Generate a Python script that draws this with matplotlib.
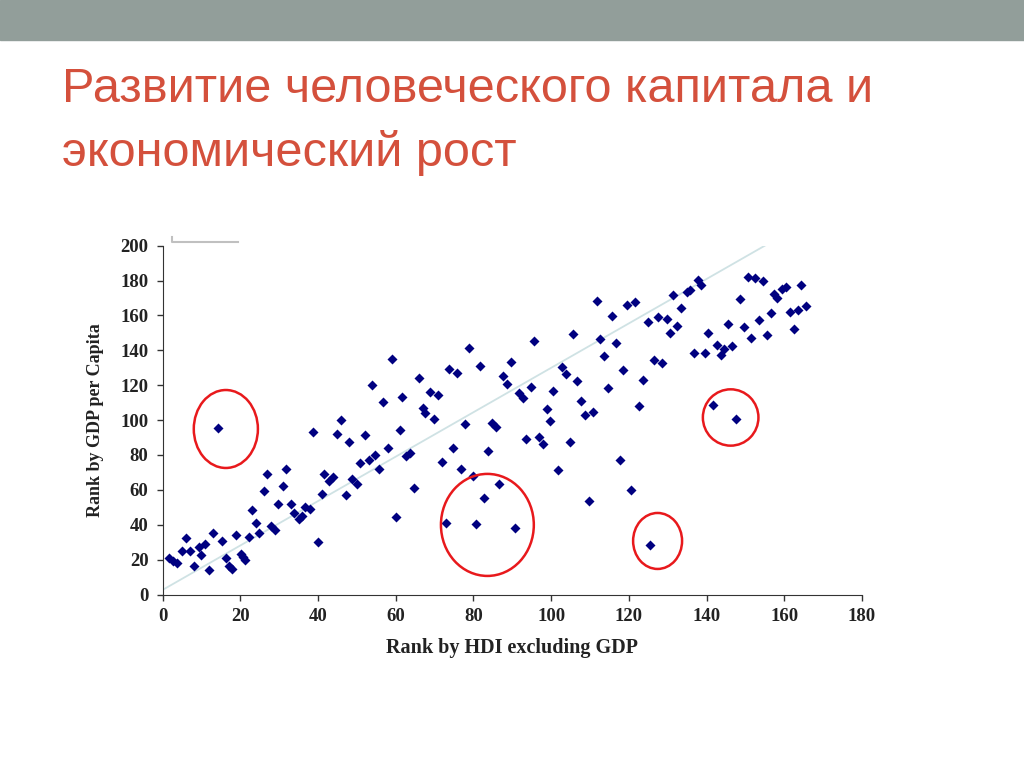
import matplotlib.pyplot as plt
from matplotlib.patches import Ellipse

# ranks: HDI (without GDP) vs GDP per capita
hdi_rank = [1.7, 2.8, 3.8, 5.0, 6.0, 7.2, 8.2, 9.4, 10.0, 11.0, 12.0, 13.1, 14.2, 15.2, 16.3, 17.2,
            18.0, 19.0, 20.1, 20.8, 21.2, 22.2, 23.0, 24.0, 24.9, 26.0, 27.0, 28.0, 28.9, 29.8,
            30.9, 31.9, 33.1, 33.9, 35.1, 36.0, 36.7, 38.0, 38.8, 40.1, 41.0, 41.6, 42.8, 43.8,
            45.0, 45.9, 47.1, 48.1, 48.8, 50.0, 50.9, 52.0, 53.1, 54.0, 54.8, 55.8, 56.8, 57.9,
            59.0, 60.0,
            61.1, 61.7, 62.7, 63.7, 64.8, 66.0, 67.0, 67.6, 68.8, 69.8, 70.8, 71.8, 73.0, 73.6,
            74.7, 75.8, 76.7, 77.8, 78.9, 79.8, 80.7, 81.6, 82.7, 83.8, 84.7, 85.8, 86.7, 87.7,
            88.7, 89.8, 90.8, 91.7, 92.7, 93.6, 94.7, 95.7, 96.8, 97.8, 98.9, 99.6, 100.6, 101.7,
            102.8, 103.8, 104.9, 105.7, 106.6, 107.6, 108.6, 109.8, 110.8, 111.9, 112.5, 113.7,
            114.7, 115.7, 116.8, 117.7, 118.5, 119.5, 120.6, 121.7,
            122.7, 123.6, 124.9, 125.4, 126.5, 127.6, 128.6, 129.7, 130.7, 131.4, 132.5, 133.5,
            134.9, 135.7, 136.7, 137.7, 138.5, 139.5, 140.5, 141.7, 142.6, 143.6, 144.4, 145.4,
            146.6, 147.5, 148.6, 149.6, 150.6, 151.4, 152.5, 153.5, 154.6, 155.6, 156.7, 157.4,
            158.1, 159.4, 160.4, 161.5, 162.5, 163.5, 164.4, 165.5]
gdp_rank = [20.7, 19.2, 17.9, 24.9, 32.4, 24.9, 16.2, 27.2, 22.8, 29.0, 14.0, 35.1, 95.5, 30.9,
            20.7, 16.4, 14.8, 34.3, 23.0, 21.3, 19.8, 33.0, 48.5, 40.8, 35.1, 59.2, 69.3, 39.5,
            37.0, 51.9, 62.0, 72.0, 51.9, 46.6, 43.3, 45.2, 50.0, 49.0, 93.4, 30.3, 57.6, 69.3,
            65.3, 67.2, 92.2, 100.2, 57.1, 87.4, 66.0, 63.5, 75.4, 91.5, 77.1, 120.3, 80.0, 71.8,
            110.4, 84.0, 135.2, 44.4,
            94.3, 113.1, 79.2, 81.0, 61.2, 124.3, 107.1, 104.1, 116.3, 100.8, 114.4, 76.0, 41.0,
            129.1, 84.0, 127.0, 72.0, 97.6, 141.2, 68.1, 40.4, 131.2, 55.2, 82.1, 98.3, 96.2,
            63.2, 125.1, 120.9, 133.1, 38.3, 115.3, 112.5, 89.3, 119.0, 145.2, 90.3, 86.1, 106.2,
            99.5, 116.9, 71.4, 130.4, 126.4, 87.4, 149.2, 122.4, 111.0, 102.9, 53.8, 104.8, 168.3,
            146.5, 136.6, 118.2, 159.9, 144.4, 77.3, 128.5, 166.0, 59.9, 167.5,
            108.3, 123.0, 156.1, 28.4, 134.5, 159.3, 132.6, 158.0, 149.8, 171.7, 154.0, 164.1,
            173.6, 174.6, 138.5, 180.3, 177.6, 138.5, 149.8, 108.8, 143.2, 137.1, 140.6, 155.3,
            142.5, 100.8, 169.4, 153.2, 182.2, 147.2, 181.7, 157.4, 179.6, 148.6, 161.4, 172.3,
            170.2, 175.3, 176.1, 161.8, 152.1, 163.1, 177.5, 165.4]

trend_x = [0, 155.3]
trend_y = [2.6, 200.4]

# red rings around the outliers: centre x, centre y, width, height (data units)
ring_x = [16.3, 83.6, 127.4, 146.2]
ring_y = [94.9, 39.9, 30.7, 101.5]
ring_w = [16.5, 23.9, 12.6, 14.3]
ring_h = [44.7, 58.5, 32.1, 32.3]

title = "Развитие человеческого капитала и\nэкономический рост"

fig = plt.figure(figsize=(10.24, 7.68), dpi=100)
fig.patch.set_facecolor("white")

# grey band on top of the slide
fig.patches.append(plt.Rectangle((0, 1 - 40 / 768), 1, 40 / 768, transform=fig.transFigure,
                                 color="#929e9a", zorder=0))
fig.text(62 / 1024, 1 - 122 / 768, title, fontsize=35, color="#d4503c",
         family="Liberation Sans", linespacing=1.5, va="center", ha="left")

ax = fig.add_axes([162.5 / 1024, 1 - 594.5 / 768, 699.5 / 1024, 348.8 / 768])
ax.plot(trend_x, trend_y, color="#cfe2e4", lw=1.3, zorder=1)
ax.scatter(hdi_rank, gdp_rank, marker="D", s=26, color="#000080", linewidths=0, zorder=2)

for i in range(len(ring_x)):
    ax.add_patch(Ellipse((ring_x[i], ring_y[i]), ring_w[i], ring_h[i], fill=False,
                         edgecolor="#e8191c", lw=1.8, zorder=3))

ax.set_xlim(0, 180)
ax.set_ylim(0, 200)
ax.set_xticks(range(0, 181, 20))
ax.set_yticks(range(0, 201, 20))
for s in ["top", "right"]:
    ax.spines[s].set_visible(False)
ax.spines["left"].set_color("#333333")
ax.spines["bottom"].set_color("#333333")
ax.tick_params(direction="out", length=4, width=1, color="#333333", pad=6)
for lab in ax.get_xticklabels() + ax.get_yticklabels():
    lab.set_family("Liberation Serif")
    lab.set_fontweight("bold")
    lab.set_fontsize(13.5)
    lab.set_color("#222222")

ax.set_xlabel("Rank by HDI excluding GDP", family="Liberation Serif", fontweight="bold",
              fontsize=14.5, color="#222222", labelpad=9)
ax.set_ylabel("Rank by GDP per Capita", family="Liberation Serif", fontweight="bold",
              fontsize=13, color="#222222", labelpad=12)

# leftover grey legend frame corner above the plot
fig.add_artist(plt.Line2D([172 / 1024, 172 / 1024, 238 / 1024],
                          [1 - 237 / 768, 1 - 242 / 768, 1 - 242 / 768],
                          color="#c0c0c0", lw=1.5, transform=fig.transFigure))

fig.savefig("out.png", dpi=100)
